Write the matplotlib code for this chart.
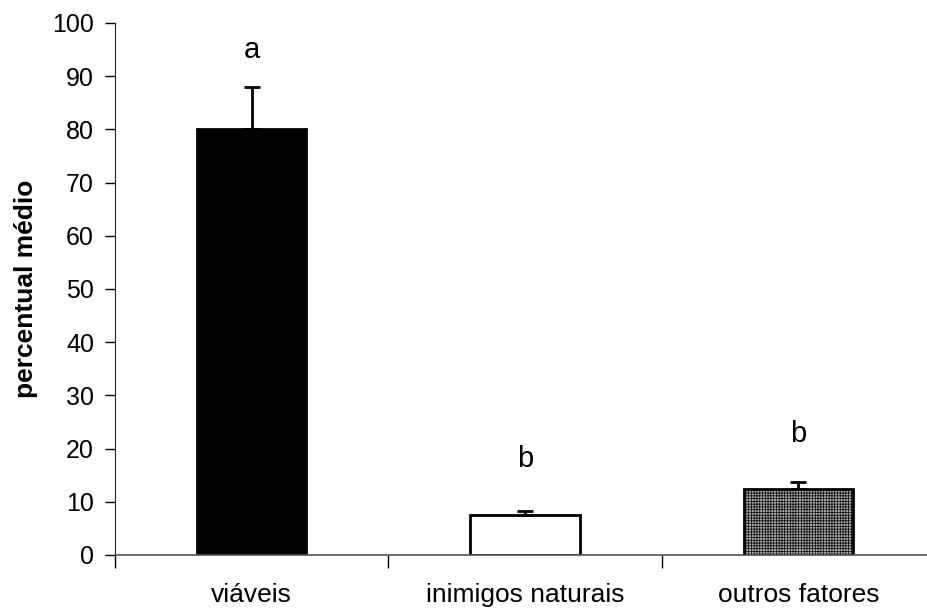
import matplotlib
matplotlib.use("Agg")
import matplotlib.pyplot as plt
from matplotlib.ticker import FixedLocator

categories = ["viáveis", "inimigos naturais", "outros fatores"]
means = [80.0, 7.5, 12.5]
errors = [8.0, 0.7, 1.2]
letters = ["a", "b", "b"]
letter_y = [95.0, 18.0, 22.8]
yticks = [0, 10, 20, 30, 40, 50, 60, 70, 80, 90, 100]

plt.rcParams["font.family"] = ["Liberation Sans", "DejaVu Sans"]
plt.rcParams["hatch.linewidth"] = 0.5
plt.rcParams["hatch.color"] = "#333333"

fig = plt.figure(figsize=(9.28, 6.08), dpi=100)
ax = fig.add_axes([115 / 928, 53 / 608, (928 - 115) / 928, (555 - 23) / 608])

x = list(range(len(categories)))
faces = ["black", "white", "#a8a8a8"]
hatches = [None, None, "++++++"]
for xi, m, fc, h in zip(x, means, faces, hatches):
    ax.bar(xi, m, width=0.4, color=fc, edgecolor="black", linewidth=2,
           hatch=h, zorder=2)
ax.errorbar(x, means, yerr=[[0] * len(x), errors], fmt="none",
            ecolor="black", elinewidth=2, capsize=6, capthick=2, zorder=3)

for xi, t, ly in zip(x, letters, letter_y):
    ax.text(xi, ly, t, ha="center", va="center", fontsize=21)

ax.set_xlim(-0.5, 2.5 - 7 / 273.5)
ax.set_ylim(0, 100)
ax.set_yticks(yticks)
ax.tick_params(axis="y", direction="out", length=7.2, width=1, labelsize=18, pad=8)

ax.set_xticks(x)
ax.set_xticklabels(categories, fontsize=19)
ax.tick_params(axis="x", which="major", length=0, pad=20)
ax.xaxis.set_minor_locator(FixedLocator([-0.5, 0.5, 1.5]))
ax.tick_params(axis="x", which="minor", direction="out", length=9, width=1)

for s in ["top", "right"]:
    ax.spines[s].set_visible(False)
ax.spines["left"].set_color("#222222")
ax.spines["bottom"].set_color("#555555")
ax.spines["bottom"].set_linewidth(1.2)

ax.set_ylabel("percentual médio", fontsize=19, fontweight="bold", labelpad=10)

fig.savefig("out.png", dpi=100)
